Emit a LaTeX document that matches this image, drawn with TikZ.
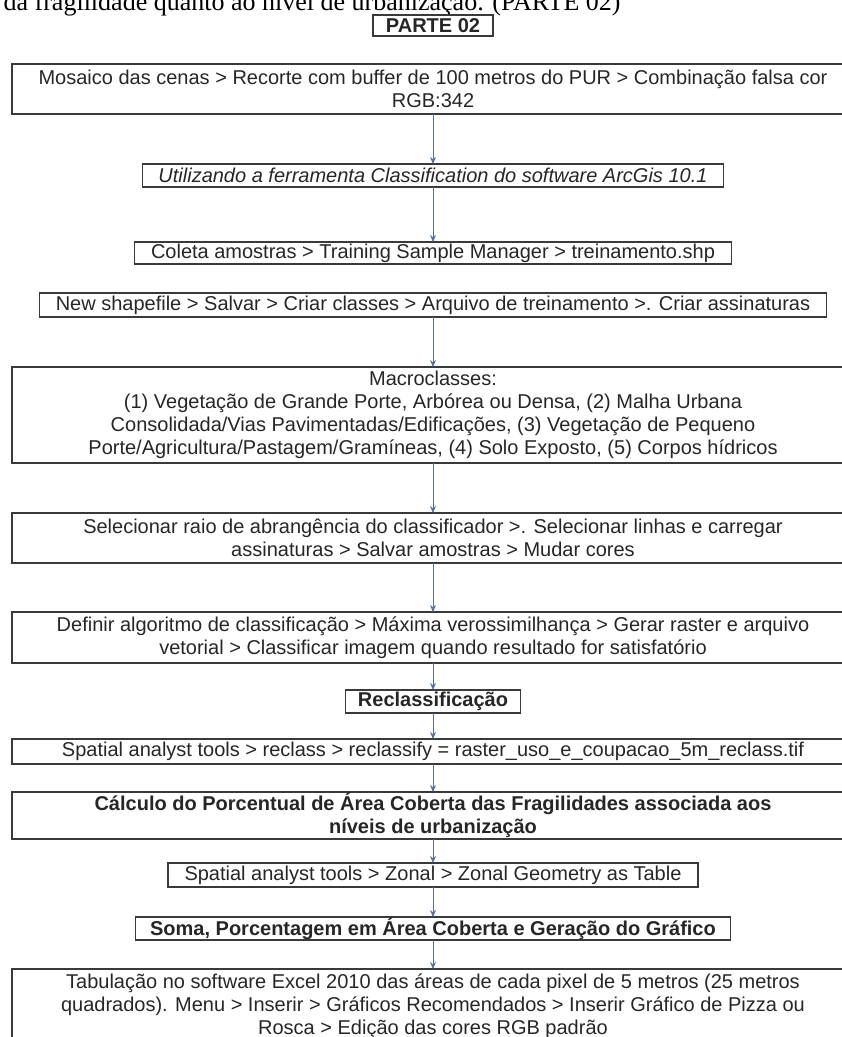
\documentclass[tikz,border=0pt]{standalone}
\usepackage{fontspec}
\setmainfont{Liberation Sans}
\newfontfamily\serifa{Liberation Serif}
\usetikzlibrary{arrows.meta,positioning}
\definecolor{azulseta}{HTML}{4F72AE}
\definecolor{borda}{HTML}{3A3A3A}
\tikzset{
    every picture/.style={
        semithick,>={Stealth[length=7pt,width=6pt]},node distance=50pt,
        etapa/.style={draw=borda,line width=1.3pt,inner sep=0pt,outer sep=0pt,
            align=center,text=black!85,font=\fontsize{20}{23}\selectfont},
        negrito/.style={etapa,font=\bfseries\fontsize{20}{23}\selectfont},
        italico/.style={etapa,font=\itshape\fontsize{20}{23}\selectfont}
    }
}

\begin{document}
\begin{tikzpicture}[x=1pt,y=-1pt]
    \useasboundingbox (0,0) rectangle (842,1037);
    \clip (0,0) rectangle (842,1037);
    \node[anchor=base west,font=\serifa\fontsize{26}{30}\selectfont] (cab) at (0,10) {da fragilidade quanto ao nível de urbanização. (PARTE 02)};
    \node[negrito,minimum width=120pt,minimum height=21pt] (parte) at (433,25.5) {PARTE 02};
    \node[etapa,minimum width=842pt,minimum height=50pt] (1) at (433,89) {Mosaico das cenas > Recorte com buffer de 100 metros do PUR > Combinação falsa cor\\RGB:342};
    \node[italico,minimum width=581pt,minimum height=23pt] (2) [below=of 1] {Utilizando a ferramenta Classification do software ArcGis 10.1};
    \node[etapa,minimum width=597pt,minimum height=22pt] (3) [below=55pt of 2] {Coleta amostras > Training Sample Manager > treinamento.shp};
    \node[etapa,minimum width=787pt,minimum height=24pt] (4) [below=29pt of 3] {New shapefile > Salvar > Criar classes > Arquivo de treinamento >. Criar assinaturas};
    \node[etapa,minimum width=842pt,minimum height=96pt] (5) [below=of 4] {Macroclasses:\\(1) Vegetação de Grande Porte, Arbórea ou Densa, (2) Malha Urbana\\Consolidada/Vias Pavimentadas/Edificações, (3) Vegetação de Pequeno\\Porte/Agricultura/Pastagem/Gramíneas, (4) Solo Exposto, (5) Corpos hídricos};
    \node[etapa,minimum width=842pt,minimum height=50pt] (6) [below=of 5] {Selecionar raio de abrangência do classificador >. Selecionar linhas e carregar\\assinaturas > Salvar amostras > Mudar cores};
    \node[etapa,minimum width=842pt,minimum height=51pt] (7) [below=49pt of 6] {Definir algoritmo de classificação > Máxima verossimilhança > Gerar raster e arquivo\\vetorial > Classificar imagem quando resultado for satisfatório};
    \node[negrito,minimum width=175pt,minimum height=23pt] (8) [below=27pt of 7] {Reclassificação};
    \node[etapa,minimum width=842pt,minimum height=25pt] (9) [below=26pt of 8] {Spatial analyst tools > reclass > reclassify = raster\_uso\_e\_coupacao\_5m\_reclass.tif};
    \node[negrito,minimum width=842pt,minimum height=47pt] (10) [below=28pt of 9] {Cálculo do Porcentual de Área Coberta das Fragilidades associada aos\\níveis de urbanização};
    \node[etapa,minimum width=530pt,minimum height=24pt] (11) [below=24pt of 10] {Spatial analyst tools > Zonal > Zonal Geometry as Table};
    \node[negrito,minimum width=595pt,minimum height=23pt] (12) [below=30pt of 11] {Soma, Porcentagem em Área Coberta e Geração do Gráfico};
    \node[etapa,minimum width=842pt,minimum height=75pt] (13) [below=29pt of 12] {Tabulação no software Excel 2010 das áreas de cada pixel de 5 metros (25 metros\\quadrados). Menu > Inserir > Gráficos Recomendados > Inserir Gráfico de Pizza ou\\Rosca > Edição das cores RGB padrão};
    \path[->,draw=azulseta,line width=1pt]
         (1) edge (2)
         (2) edge (3)
         (4) edge (5)
         (5) edge (6)
         (6) edge (7)
         (7) edge (8)
         (8) edge (9)
         (9) edge (10)
        (10) edge (11)
        (11) edge (12)
        (12) edge (13)
         ;
\end{tikzpicture}
\end{document}
